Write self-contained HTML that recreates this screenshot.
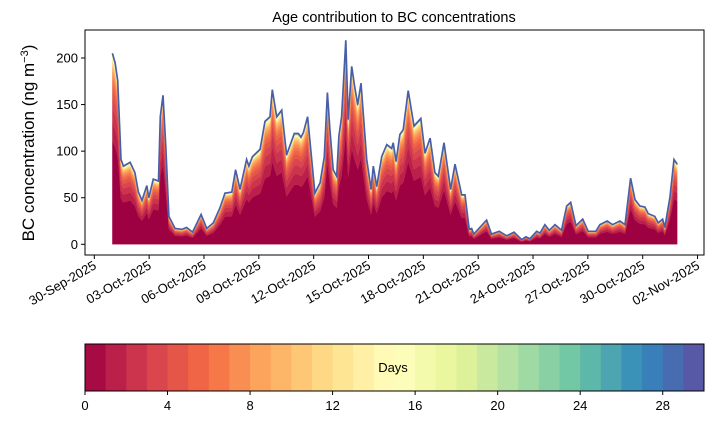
<!DOCTYPE html>
<html><head><meta charset="utf-8">
<style>
body{margin:0;background:#fff;}
svg{display:block;font-family:"Liberation Sans",sans-serif;}
</style></head>
<body>
<svg id="chart" width="714" height="425" viewBox="0 0 714 425">
  <text x="394" y="22" text-anchor="middle" font-size="14.5">Age contribution to BC concentrations</text>
  <text transform="translate(34,143) rotate(-90)" text-anchor="middle" font-size="17">BC concentration (ng m<tspan baseline-shift="super" font-size="11">−3</tspan>)</text>
  <g id="layers"></g>
  <g id="axes"></g>
  <g id="cbar"></g>
</svg>
<script>
const days = [0.99,1.14,1.28,1.46,1.59,1.96,2.22,2.41,2.61,2.87,2.98,3.23,3.51,3.61,3.76,3.91,4.08,4.42,4.78,5.05,5.37,5.84,6.15,6.51,6.87,7.15,7.52,7.73,7.97,8.33,8.46,8.65,9.07,9.34,9.61,9.74,9.98,10.25,10.52,10.94,11.16,11.31,11.44,11.67,12.07,12.35,12.58,12.75,12.89,13.07,13.26,13.38,13.53,13.76,13.89,14.08,14.23,14.41,14.59,14.90,15.14,15.26,15.45,15.72,16.00,16.27,16.35,16.51,16.72,16.90,17.17,17.49,17.86,18.09,18.37,18.63,18.82,19.13,19.49,19.73,20.10,20.28,20.51,20.64,20.76,21.46,21.73,22.15,22.56,22.96,23.38,23.61,23.83,24.20,24.38,24.65,24.89,25.20,25.56,25.84,26.06,26.35,26.72,27.02,27.44,27.66,28.06,28.35,28.75,29.03,29.34,29.58,29.85,30.12,30.30,30.66,30.85,31.09,31.21,31.49,31.71,31.89];
const totals = [205,195,176,91,84,88,77,56,47,63,50,70,68,137,160,105,30,17,16,18,13,32,17,23,39,55,56,80,59,91,84,94,102,132,137,166,137,144,96,119,119,115,120,137,55,66,94,163,123,80,73,116,137,219,134,191,171,150,173,91,59,84,62,94,107,103,109,89,118,123,165,127,135,98,114,77,73,109,59,86,53,53,16,17,11,26,11,14,9,13,5,8,6,14,12,21,15,21,15,41,45,20,27,14,14,21,25,21,25,21,71,48,41,40,33,30,23,27,18,50,91,86];
const ageShares = [0.55,0.10,0.08,0.06,0.045,0.035,0.03,0.025,0.02,0.015,0.012,0.01,0.008,0.006,0.005,0.004,0.003,0.003,0.002,0.002,0.002,0.001,0.001,0.001,0.001,0.001,0.001,0.001,0.001,0.001];
const yTicks = [0,50,100,150,200];
const dateLabels = ["30-Sep-2025","03-Oct-2025","06-Oct-2025","09-Oct-2025","12-Oct-2025","15-Oct-2025","18-Oct-2025","21-Oct-2025","24-Oct-2025","27-Oct-2025","30-Oct-2025","02-Nov-2025"];
const cbarTicks = [0,4,8,12,16,20,24,28];

const NS="http://www.w3.org/2000/svg";
const AX={l:85,r:704,t:30,b:255};
const xS=d=>94.3+d*18.28;
const yS=v=>244.3-v*0.9315;
const spectral=["#9e0142","#d53e4f","#f46d43","#fdae61","#fee08b","#ffffbf","#e6f598","#abdda4","#66c2a5","#3288bd","#5e4fa2"];
function hex(h){return [1,3,5].map(i=>parseInt(h.substr(i,2),16));}
function cmap(t){const p=t*10,i=Math.min(9,Math.floor(p)),f=p-i;const a=hex(spectral[i]),b=hex(spectral[i+1]);return "rgb("+a.map((v,k)=>Math.round(v+(b[k]-v)*f)).join(",")+")";}
function mk(tag,attrs,parent){const e=document.createElementNS(NS,tag);for(const k in attrs)e.setAttribute(k,attrs[k]);parent.appendChild(e);return e;}

const N=Math.min(days.length,totals.length);
const layersG=document.getElementById('layers');
const shareSum=ageShares.reduce((a,b)=>a+b,0);
let cum=new Array(N).fill(0);
for(let k=0;k<ageShares.length;k++){
  const lo=cum.slice();
  cum=cum.map((c,i)=>c+totals[i]*ageShares[k]/shareSum);
  const pts=[];
  for(let i=0;i<N;i++)pts.push(xS(days[i]).toFixed(1)+","+yS(cum[i]).toFixed(1));
  let d="M"+pts.join("L");
  for(let i=N-1;i>=0;i--)d+="L"+xS(days[i]).toFixed(1)+","+yS(lo[i]).toFixed(1);
  d+="Z";
  const col=k===0?"#9e0142":cmap((k+0.5)/30);
  const p=mk('path',{d:d,fill:col,stroke:col,'stroke-width':0.3},layersG);
  
  
}
const tp=[];
for(let i=0;i<N;i++)tp.push(xS(days[i]).toFixed(1)+","+yS(totals[i]).toFixed(1));
const totalLine=mk('path',{d:"M"+tp.join("L"),fill:"none",stroke:"#4a5ea8",'stroke-width':1.7},layersG);



const axesG=document.getElementById('axes');
const frame=mk('rect',{x:AX.l,y:AX.t,width:AX.r-AX.l,height:AX.b-AX.t,fill:"none",stroke:"#000",'stroke-width':1},axesG);


yTicks.forEach(v=>{
  const y=yS(v);
  mk('line',{x1:AX.l-4,x2:AX.l,y1:y,y2:y,stroke:"#000"},axesG);
  const t=mk('text',{x:AX.l-7,y:y+4.5,'text-anchor':'end','font-size':13},axesG);
  t.textContent=v;
  
  
});
dateLabels.forEach((lab,i)=>{
  const x=xS(i*3);
  mk('line',{x1:x,x2:x,y1:AX.b,y2:AX.b+4,stroke:"#000"},axesG);
  const t=mk('text',{transform:"translate("+(x+3)+","+(AX.b+13)+") rotate(-30)",'text-anchor':'end','font-size':13},axesG);
  t.textContent=lab;
  
  
});

const cbG=document.getElementById('cbar');
const CB={l:85,r:704,t:344,b:391};
const cw=(CB.r-CB.l)/30;
for(let k=0;k<30;k++){
  const r=mk('rect',{x:CB.l+k*cw,y:CB.t,width:cw+0.5,height:CB.b-CB.t,fill:cmap((k+0.5)/30)},cbG);
  
  
}
mk('rect',{x:CB.l,y:CB.t,width:CB.r-CB.l,height:CB.b-CB.t,fill:"none",stroke:"#000"},cbG);
cbarTicks.forEach(v=>{
  const x=CB.l+v*cw;
  mk('line',{x1:x,x2:x,y1:CB.b,y2:CB.b+4,stroke:"#000"},cbG);
  const t=mk('text',{x:x,y:CB.b+19,'text-anchor':'middle','font-size':13},cbG);
  t.textContent=v;
  
  
});
const dl=mk('text',{x:393,y:372,'text-anchor':'middle','font-size':13},cbG);
dl.textContent="Days";


</script>
</body></html>
